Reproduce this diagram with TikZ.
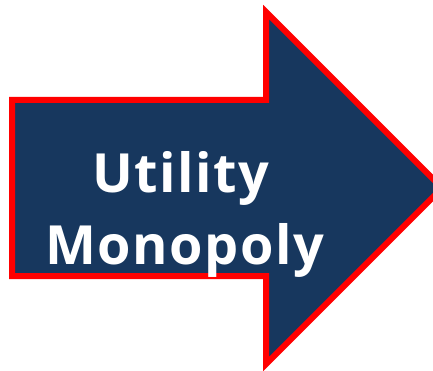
\documentclass[tikz,border=0pt]{standalone}
\usepackage{fontspec}
\newfontfamily\arrowfont[LetterSpace=3]{Open Sans}
\definecolor{arrowfill}{HTML}{17375E}
\definecolor{arrowedge}{HTML}{FF0000}
\tikzset{
  bigarrow/.style={fill=arrowfill, draw=arrowedge, line width=6pt, line join=miter},
  arrowtext/.style={text=white, font=\arrowfont\bfseries\fontsize{54}{60}\selectfont, inner sep=0pt, anchor=base}
}
\begin{document}
\begin{tikzpicture}[x=1pt,y=-1pt]
\useasboundingbox (0,0) rectangle (433,371);
\draw[bigarrow] (12,100) coordinate (a1) -- (266,100) -- (266,12) -- (442,188) -- (266,364) -- (266,276) -- (12,276) -- cycle;
\node[arrowtext] (t1) at (181,193) {Utility};
\node[arrowtext] (t2) at (185,264) {Monopoly};
\end{tikzpicture}
\end{document}
